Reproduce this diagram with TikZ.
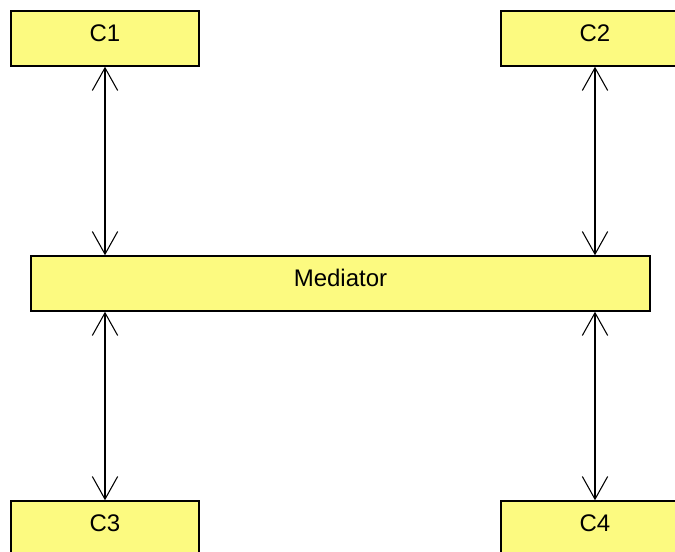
\documentclass[tikz,border=0pt]{standalone}
\usepackage{fontspec}
\setmainfont{Liberation Sans}
\usepackage{tikz}
\usetikzlibrary{arrows.meta,positioning}

\definecolor{boxyellow}{RGB}{252,250,128}

\begin{document}
\begin{tikzpicture}[x=0.75pt, y=-0.75pt,
    box/.style = {draw, fill=boxyellow, line width=1.1pt, inner sep=0pt,
                  minimum width=141pt, minimum height=41.25pt,
                  text height=13pt, text depth=8pt,
                  font=\fontsize{18pt}{21pt}\selectfont},
    link/.style = {{Straight Barb[length=17pt,width=19pt]}-{Straight Barb[length=17pt,width=19pt]}, line width=0.8pt}]
  \useasboundingbox (0,0) rectangle (675,552);

  \node[box, minimum width=464pt] (med) at (340.5,283.5) {Mediator};

  \node[box] (c1) at (105,38.5) {C1};
  \node[box] (c2) at (595,38.5) {C2};
  \node[box] (c3) at (105,528.5) {C3};
  \node[box] (c4) at (595,528.5) {C4};

  \draw[link] (c1) to (c1 |- med.north);
  \draw[link] (c2) to (c2 |- med.north);

  \draw[link] (c3 |- med.south) to (c3);
  \draw[link] (c4 |- med.south) to (c4);
\end{tikzpicture}
\end{document}
